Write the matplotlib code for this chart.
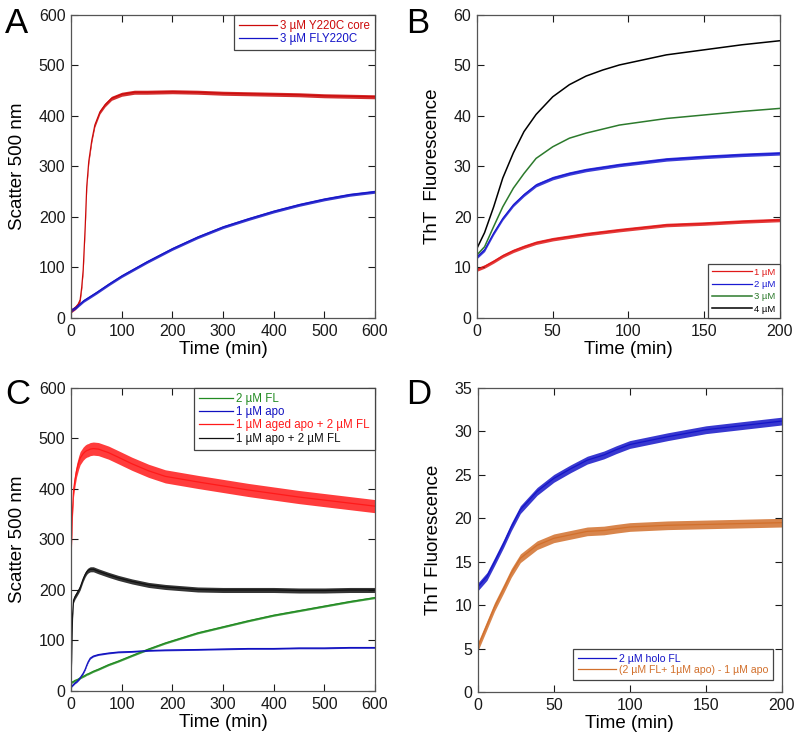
import matplotlib
matplotlib.use("Agg")
import matplotlib.pyplot as plt
import numpy as np

plt.rcParams["font.family"] = ["Liberation Sans", "DejaVu Sans"]

# ---- panel A: scatter at 500 nm, 0-600 min ----
a_time = [0, 8, 14, 18, 21, 24, 28, 31, 35, 41, 47, 57, 67, 80, 100,
          125, 150, 200, 250, 300, 350, 400, 450, 500, 550, 600]
a_core = [14, 20, 27, 36, 60, 95, 181, 260, 310, 352, 382, 408, 422, 435, 443,
          447, 447, 448, 447, 445, 444, 443, 442, 440, 439, 438]
a_fl_time = [0, 10, 25, 50, 75, 100, 150, 200, 250, 300, 350, 400, 450, 500, 550, 600]
a_fl = [15, 21, 34, 50, 67, 83, 111, 137, 160, 180, 196, 211, 224, 235, 244, 250]
a_labels = ["3 \u00b5M Y220C core", "3 \u00b5M FLY220C"]

# ---- panel B: ThT fluorescence at four concentrations ----
b_time = [0, 5, 11, 17, 24, 31, 39, 50, 61, 72, 83, 94, 125, 150, 175, 200]
b_1um = [9.6, 10.2, 11.2, 12.3, 13.3, 14.1, 14.9, 15.6, 16.1, 16.6, 17.0, 17.4, 18.4, 18.7, 19.1, 19.4]
b_2um = [12.1, 13.5, 16.8, 19.7, 22.4, 24.4, 26.3, 27.7, 28.6, 29.3, 29.8, 30.3, 31.4, 31.9, 32.3, 32.6]
b_3um = [12.5, 14.1, 18.1, 22.0, 25.7, 28.6, 31.6, 33.9, 35.6, 36.6, 37.4, 38.2, 39.5, 40.2, 40.9, 41.5]
b_4um = [13.8, 16.9, 22.0, 27.7, 32.7, 36.9, 40.3, 43.8, 46.2, 47.9, 49.1, 50.1, 52.1, 53.1, 54.1, 54.9]
b_labels = ["1 \u00b5M", "2 \u00b5M", "3 \u00b5M", "4 \u00b5M"]

# ---- panel C: scatter for FL / apo mixtures ----
c_time = [0, 1, 3, 5, 8, 11, 15, 18, 24, 28, 31, 34, 38, 44, 54, 74, 93, 120,
          153, 186, 250, 300, 350, 400, 450, 500, 550, 600]
c_fl = [16, 17, 18, 19, 21, 22, 24, 26, 29, 31, 33, 34, 36, 39, 43, 52, 59, 70,
        83, 95, 115, 127, 139, 150, 159, 168, 177, 185]
c_apo = [8, 9, 11, 13, 16, 18, 22, 26, 35, 43, 51, 58, 65, 69, 72, 75, 77, 78,
         80, 81, 82, 83, 84, 84, 85, 85, 86, 86]
c_aged = [262, 300, 360, 398, 420, 437, 452, 461, 470, 474, 476, 477, 479, 480, 479, 472, 463, 450,
          436, 425, 414, 406, 398, 391, 384, 378, 372, 366]
c_mix = [15, 60, 150, 180, 187, 192, 199, 205, 222, 231, 236, 239, 241, 241, 237, 230, 224, 217,
         210, 206, 201, 200, 200, 200, 199, 199, 200, 200]
c_labels = ["2 \u00b5M FL", "1 \u00b5M apo", "1 \u00b5M aged apo + 2 \u00b5M FL", "1 \u00b5M apo + 2 \u00b5M FL"]

# ---- panel D: ThT, holo FL vs difference curve ----
d_time = [0, 6, 11, 17, 22, 28, 39, 50, 61, 72, 83, 91, 100, 125, 150, 175, 200]
d_holo = [12.1, 13.3, 15.0, 17.1, 19.0, 21.0, 23.1, 24.6, 25.7, 26.7, 27.3, 27.9, 28.5, 29.4, 30.2, 30.7, 31.2]
d_diff = [5.2, 7.7, 9.8, 11.9, 13.7, 15.4, 16.9, 17.7, 18.1, 18.5, 18.6, 18.8, 19.0, 19.2, 19.3, 19.4, 19.5]
d_labels = ["2 \u00b5M holo FL", "(2 \u00b5M FL+ 1\u00b5M apo) - 1 \u00b5M apo"]


def style_axes(ax, xmax, ymax, ystep, xstep, ylabel):
  ax.set_xlim(0, xmax)
  ax.set_ylim(0, ymax)
  ax.set_xticks(np.arange(0, xmax + 1, xstep))
  ax.set_yticks(np.arange(0, ymax + 0.01, ystep))
  ax.tick_params(direction="in", top=True, right=True, length=5, width=0.8,
                 labelsize=11.5, pad=4, colors="#1a1a1a")
  for s in ax.spines.values():
    s.set_color("#555555")
    s.set_linewidth(0.9)
  ax.set_xlabel("Time (min)", fontsize=13.5, labelpad=2)
  ax.set_ylabel(ylabel, fontsize=13.5, labelpad=9)


def noisy(ax, x, y, color, spread, lw=0.9, label=None):
  # solid band for the noisy recordings, thin centre line for the legend
  y = np.asarray(y, dtype=float)
  ax.fill_between(x, y - spread, y + spread, color=color, alpha=0.85, lw=0)
  ax.plot(x, y, color=color, lw=lw, label=label)


def add_legend(ax, loc, size, anchor=None, handlelength=3.0, spacing=0.1):
  leg = ax.legend(loc=loc, fontsize=size, fancybox=False, framealpha=1,
                  borderaxespad=0, handlelength=handlelength, handletextpad=0.25,
                  labelspacing=spacing, borderpad=0.45, labelcolor="linecolor",
                  bbox_to_anchor=anchor)
  leg.get_frame().set_edgecolor("#444444")
  leg.get_frame().set_linewidth(0.9)
  return leg


fig = plt.figure(figsize=(7.99, 7.41), dpi=100)

# A
ax = fig.add_axes([0.0889, 0.5709, 0.3805, 0.4089])
noisy(ax, a_time, a_core, "#cc0a0a", 4, label=a_labels[0])
noisy(ax, a_fl_time, a_fl, "#1414c8", 3, label=a_labels[1])
style_axes(ax, 600, 600, 100, 100, "Scatter 500 nm")
add_legend(ax, "upper right", 8.3, handlelength=3.3)
fig.text(0.006, 0.955, "A", fontsize=25)

# B
ax = fig.add_axes([0.597, 0.5709, 0.3792, 0.4089])
noisy(ax, b_time, b_1um, "#e01818", 0.35, label=b_labels[0])
noisy(ax, b_time, b_2um, "#1a1ad2", 0.35, label=b_labels[1])
ax.plot(b_time, b_3um, color="#2c7a2c", lw=1.1, label=b_labels[2])
ax.plot(b_time, b_4um, color="black", lw=1.1, label=b_labels[3])
style_axes(ax, 200, 60, 10, 50, "ThT  Fluorescence")
add_legend(ax, "lower right", 6.8, handlelength=4.2, spacing=0.35)
fig.text(0.508, 0.955, "B", fontsize=25)

# C
ax = fig.add_axes([0.0889, 0.0675, 0.3805, 0.4089])
noisy(ax, c_time, c_fl, "#228b22", 2, label=c_labels[0])
noisy(ax, c_time, c_apo, "#1010c0", 1.5, label=c_labels[1])
noisy(ax, c_time, c_aged, "#ff1a1a", 13, label=c_labels[2])
noisy(ax, c_time, c_mix, "#111111", 5, label=c_labels[3])
style_axes(ax, 600, 600, 100, 100, "Scatter 500 nm")
add_legend(ax, "upper right", 8.3)
fig.text(0.006, 0.455, "C", fontsize=25)

# D
ax = fig.add_axes([0.598, 0.0661, 0.3805, 0.4102])
noisy(ax, d_time, d_holo, "#1515c8", 0.45, label=d_labels[0])
noisy(ax, d_time, d_diff, "#d2702c", 0.5, label=d_labels[1])
style_axes(ax, 200, 35, 5, 50, "ThT Fluorescence")
add_legend(ax, "lower right", 7.6, anchor=(0.97, 0.04), handlelength=3.6)
fig.text(0.508, 0.455, "D", fontsize=25)

fig.savefig("out.png", dpi=100)
